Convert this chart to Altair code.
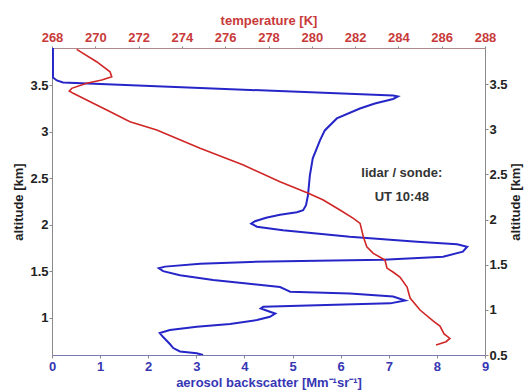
import altair as alt
import pandas as pd

# Lidar aerosol backscatter profile (bottom / left axes)
backscatter = [0.02, 0.02, 0.02, 0.10, 0.23, 3.08, 7.09, 7.19, 7.09, 6.71, 6.40, 5.92, 5.67, 5.57,
               5.42, 5.36, 5.32, 5.28, 5.22, 5.09, 4.74, 4.45, 4.22, 4.14, 4.26, 4.80, 6.19, 7.59,
               8.42, 8.63, 8.54, 8.13, 6.88, 5.51, 4.12, 3.08, 2.35, 2.22, 2.31, 2.66, 3.35, 4.05,
               4.74, 4.88, 4.95, 6.19, 7.09, 7.34, 7.03, 5.51, 4.39, 4.34, 4.53, 4.64, 4.53, 4.26,
               3.70, 3.01, 2.45, 2.24, 2.31, 2.37, 2.45, 2.52, 2.66, 3.01, 3.14]
lidar_alt = [3.90, 3.658, 3.583, 3.551, 3.530, 3.470, 3.390, 3.379, 3.352, 3.304, 3.250, 3.143,
             3.014, 2.907, 2.714, 2.531, 2.317, 2.210, 2.156, 2.134, 2.108, 2.075, 2.038, 2.011,
             1.979, 1.941, 1.871, 1.818, 1.791, 1.764, 1.711, 1.657, 1.625, 1.612, 1.601, 1.582,
             1.550, 1.533, 1.501, 1.458, 1.405, 1.369, 1.330, 1.297, 1.281, 1.260, 1.228, 1.185,
             1.155, 1.136, 1.118, 1.101, 1.065, 1.045, 1.011, 0.976, 0.933, 0.904, 0.868, 0.836,
             0.793, 0.761, 0.718, 0.675, 0.638, 0.618, 0.60]

# Radiosonde temperature profile (top / right axes)
temperature = [269.14, 270.06, 270.68, 270.76, 270.30, 269.60, 268.91, 268.80, 268.98, 269.60,
               270.53, 271.60, 272.84, 274.84, 276.84, 278.53, 279.84, 280.53, 281.30, 281.92,
               282.23, 282.38, 282.54, 282.84, 283.38, 283.47, 283.75, 284.07, 284.40, 284.54,
               285.00, 285.60, 285.92, 286.11, 286.38, 286.20, 285.74]
sonde_alt = [3.885, 3.748, 3.637, 3.582, 3.545, 3.509, 3.453, 3.424, 3.398, 3.324, 3.213, 3.084,
             2.992, 2.789, 2.604, 2.419, 2.291, 2.217, 2.106, 2.014, 1.958, 1.810, 1.699, 1.626,
             1.552, 1.463, 1.419, 1.364, 1.253, 1.131, 0.998, 0.877, 0.821, 0.733, 0.683, 0.647,
             0.611]

bottom_ticks = [0, 1, 2, 3, 4, 5, 6, 7, 8, 9]
left_ticks = [1, 1.5, 2, 2.5, 3, 3.5]
top_ticks = [268, 270, 272, 274, 276, 278, 280, 282, 284, 286, 288]
right_ticks = [0.5, 1, 1.5, 2, 2.5, 3, 3.5]

note_lines = ["lidar / sonde:", "UT 10:48"]
note_x = [7.27, 7.27]
note_alt = [2.553, 2.295]

FONT = "Liberation Sans"
BLUE = "#2626c8"
RED = "#d02626"
BLUE_TXT = "#3636b4"
RED_TXT = "#c83a3a"

lidar = pd.DataFrame({"i": range(len(backscatter)), "b": backscatter, "alt": lidar_alt})
sonde = pd.DataFrame({"i": range(len(temperature)), "t": temperature, "alt": sonde_alt})
notes = pd.DataFrame({"label": note_lines, "b": note_x, "alt": note_alt})

common = dict(labelFont=FONT, titleFont=FONT, labelFontWeight="bold", titleFontWeight="bold",
              labelFontSize=13, titleFontSize=13, grid=False, labelFlush=False,
              tickColor="#8a8a8a", format="~g")

bottom_axis = alt.Axis(orient="bottom", values=bottom_ticks,
                       title="aerosol backscatter [Mm⁻¹sr⁻¹]",
                       labelColor=BLUE_TXT, titleColor=BLUE_TXT, domainColor="#7a7ab0",
                       tickSize=3, labelPadding=2, titlePadding=3, **common)
left_axis = alt.Axis(orient="left", values=left_ticks, title="altitude [km]",
                     labelColor="#222222", titleColor="#222222", domainColor="#8a8a8a",
                     tickSize=3, labelPadding=1, titlePadding=4, **common)
bottom_scale = alt.Scale(domain=[0, 9], nice=False, zero=False)
left_scale = alt.Scale(domain=[0.6, 3.9], nice=False, zero=False)

blue_line = alt.Chart(lidar).mark_line(color=BLUE, strokeWidth=2, clip=True).encode(
    x=alt.X("b:Q", scale=bottom_scale, axis=bottom_axis),
    y=alt.Y("alt:Q", scale=left_scale, axis=left_axis),
    order="i:Q")

note_text = alt.Chart(notes).mark_text(font=FONT, fontWeight="bold", fontSize=13,
                                       color="#333333", align="center").encode(
    x=alt.X("b:Q", scale=bottom_scale, axis=bottom_axis),
    y=alt.Y("alt:Q", scale=left_scale, axis=left_axis),
    text="label:N")

lower = alt.layer(blue_line, note_text)

red_line = alt.Chart(sonde).mark_line(color=RED, strokeWidth=1.6, clip=True).encode(
    x=alt.X("t:Q", scale=alt.Scale(domain=[268, 288], nice=False, zero=False),
            axis=alt.Axis(orient="top", values=top_ticks, title="temperature [K]",
                          labelColor=RED_TXT, titleColor=RED_TXT, domainColor="#b08a8a",
                          tickSize=2, labelPadding=2, titlePadding=4, **common)),
    y=alt.Y("alt:Q", scale=alt.Scale(domain=[0.5, 3.9], nice=False, zero=False),
            axis=alt.Axis(orient="right", values=right_ticks, title="altitude [km]",
                          labelColor="#222222", titleColor="#222222", domainColor="#8a8a8a",
                          titleAngle=270, titleBaseline="top",
                          tickSize=3, labelPadding=1, titlePadding=2, **common)),
    order="i:Q")

chart = alt.layer(lower, red_line).resolve_scale(x="independent", y="independent").properties(
    width=433, height=307,
    autosize=alt.AutoSizeParams(type="none"),
    padding={"left": 52, "top": 48, "right": 43, "bottom": 37},
).configure_view(stroke=None).configure(background="white")

chart.save("out.html", embed_options={"renderer": "svg", "actions": False})
